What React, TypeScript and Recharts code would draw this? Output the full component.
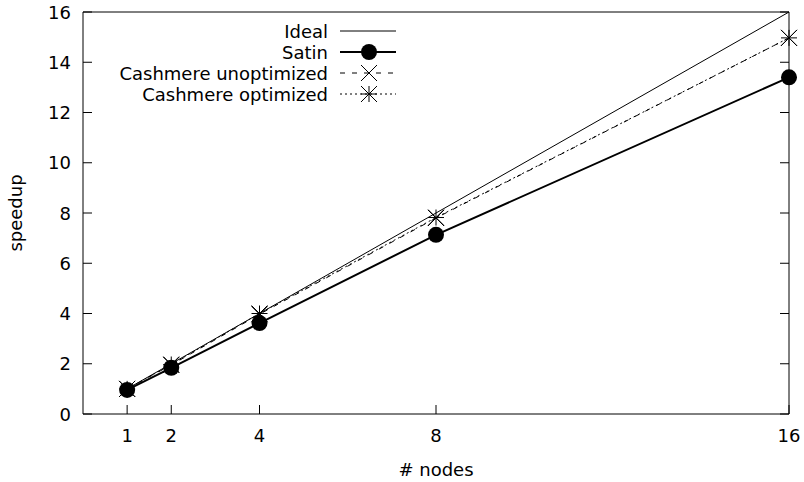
import { Label, Line, LineChart, XAxis, YAxis } from "recharts";

const nodes = [1, 2, 4, 8, 16];
const ideal = [1, 2, 4, 8, 16];
const satin = [0.96, 1.84, 3.62, 7.13, 13.4];
const cashmereUnoptimized = [1.0, 1.95, 3.97, 7.8, 14.97];
const cashmereOptimized = [1.0, 1.97, 4.0, 7.82, 14.97];
const xTicks = [1, 2, 4, 8, 16];
const yTicks = [0, 2, 4, 6, 8, 10, 12, 14, 16];

const data = nodes.map((n, i) => ({
  nodes: n,
  ideal: ideal[i],
  satin: satin[i],
  unopt: cashmereUnoptimized[i],
  opt: cashmereOptimized[i]
}));

type Marker = "none" | "circle" | "cross" | "star";

const series: { key: string; name: string; width: number; dash?: string; marker: Marker }[] = [
  { key: "ideal", name: "Ideal", width: 1, marker: "none" },
  { key: "satin", name: "Satin", width: 2, marker: "circle" },
  { key: "unopt", name: "Cashmere unoptimized", width: 1, dash: "5 7", marker: "cross" },
  { key: "opt", name: "Cashmere optimized", width: 1, dash: "2 3", marker: "star" }
];

const font = "'DejaVu Sans', sans-serif";

function markerShape(kind: Marker, cx: number, cy: number, key?: string | number) {
  const s = 8;
  if (kind === "circle") return <circle key={key} cx={cx} cy={cy} r={8} fill="#000" />;
  if (kind === "cross")
    return (
      <path
        key={key}
        d={`M${cx - s},${cy - s}L${cx + s},${cy + s}M${cx - s},${cy + s}L${cx + s},${cy - s}`}
        stroke="#000"
        strokeWidth={1}
        fill="none"
      />
    );
  if (kind === "star")
    return (
      <path
        key={key}
        d={`M${cx - s},${cy - s}L${cx + s},${cy + s}M${cx - s},${cy + s}L${cx + s},${cy - s}M${cx - s},${cy}L${cx + s},${cy}M${cx},${cy - s}L${cx},${cy + s}`}
        stroke="#000"
        strokeWidth={1}
        fill="none"
      />
    );
  return <g key={key} />;
}

function BottomTick(props: any) {
  const { x, y, payload } = props;
  return (
    <g>
      <line x1={x} x2={x} y1={y} y2={y - 9} stroke="#000" />
      <text x={x} y={y + 21} textAnchor="middle" dominantBaseline="central" fontSize={18} fontFamily={font} fill="#000">
        {payload.value}
      </text>
    </g>
  );
}

function LeftTick(props: any) {
  const { x, y, payload } = props;
  return (
    <g>
      <line x1={x} x2={x + 9} y1={y} y2={y} stroke="#000" />
      <text x={x - 12} y={y} textAnchor="end" dominantBaseline="central" fontSize={18} fontFamily={font} fill="#000">
        {payload.value}
      </text>
    </g>
  );
}

function RightTick(props: any) {
  const { x, y } = props;
  return <line x1={x} x2={x - 9} y1={y} y2={y} stroke="#000" />;
}

function LegendBox() {
  return (
    <svg width={300} height={90} style={{ position: "absolute", left: 100, top: 20, display: "block" }}>
      {series.map((s, i) => {
        const cy = 11 + i * 21;
        return (
          <g key={s.key}>
            <text x={228} y={cy} textAnchor="end" dominantBaseline="central" fontSize={18} fontFamily={font} fill="#000">
              {s.name}
            </text>
            <line x1={240} x2={296} y1={cy} y2={cy} stroke="#000" strokeWidth={s.width} strokeDasharray={s.dash} />
            {markerShape(s.marker, 269, cy)}
          </g>
        );
      })}
    </svg>
  );
}

export default function App() {
  return (
    <div style={{ position: "absolute", left: 0, top: 0, width: 804, height: 482, background: "#fff" }}>
      <LineChart width={804} height={482} data={data} margin={{ top: 11, right: 14, left: 0, bottom: 0 }}>
        <XAxis
          dataKey="nodes"
          type="number"
          domain={[0, 16]}
          ticks={xTicks}
          height={68}
          tickSize={0}
          tickMargin={0}
          tick={BottomTick}
          axisLine={{ stroke: "#000" }}
        >
          <Label value="# nodes" position="insideBottom" offset={6} fontSize={18} fontFamily={font} fill="#000" style={{ fill: "#000" }} />
        </XAxis>
        <XAxis
          xAxisId="top"
          dataKey="nodes"
          orientation="top"
          type="number"
          domain={[0, 16]}
          height={1}
          tick={false}
          tickLine={false}
          axisLine={{ stroke: "#000" }}
        />
        <YAxis
          type="number"
          domain={[0, 16]}
          ticks={yTicks}
          width={83}
          tickSize={0}
          tickMargin={0}
          tick={LeftTick}
          axisLine={{ stroke: "#000" }}
        >
          <Label
            value="speedup"
            angle={-90}
            position="insideLeft"
            offset={16}
            fontSize={18}
            fontFamily={font}
            fill="#000"
            style={{ fill: "#000", textAnchor: "middle" }}
          />
        </YAxis>
        <YAxis
          yAxisId="right"
          orientation="right"
          type="number"
          domain={[0, 16]}
          ticks={yTicks}
          width={1}
          tickSize={0}
          tickMargin={0}
          tick={RightTick}
          axisLine={{ stroke: "#000" }}
        />
        {series.map((s) => (
          <Line
            key={s.key}
            dataKey={s.key}
            name={s.name}
            xAxisId={s.key === "ideal" ? "top" : 0}
            yAxisId={s.key === "ideal" ? "right" : 0}
            stroke="#000"
            strokeWidth={s.width}
            strokeDasharray={s.dash}
            isAnimationActive={false}
            dot={s.marker === "none" ? false : (p: any) => markerShape(s.marker, p.cx, p.cy, p.index)}
            activeDot={false}
          />
        ))}
      </LineChart>
      <LegendBox />
    </div>
  );
}
